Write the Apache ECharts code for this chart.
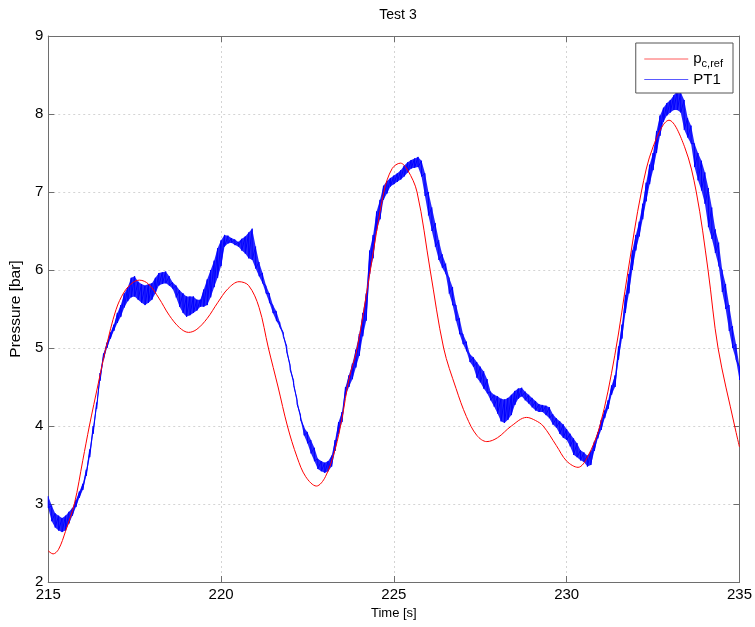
<!DOCTYPE html>
<html>
<head>
    <meta charset="utf-8">
    <script src="https://cdn.jsdelivr.net/npm/echarts@6/dist/echarts.min.js"></script>
    <style>
        html, body { margin: 0; padding: 0; background: #fff; }
    </style>
</head>
<body>
<div id="main" style="position:absolute;top:0;left:0;width:755px;height:627px;"></div>
<script type="text/javascript">
    // reference pressure p_c,ref (smooth curve)
    var refTime = [215.0, 215.14, 215.3, 215.5, 215.76, 216.0, 216.19, 216.45, 216.67, 216.96,
        217.2, 217.45, 217.64, 217.9, 218.2, 218.5, 218.8, 219.06, 219.3, 219.6,
        219.9, 220.2, 220.52, 220.8, 221.1, 221.37, 221.65, 221.92, 222.2, 222.45,
        222.76, 223.02, 223.3, 223.5, 223.7, 223.94, 224.32, 224.71, 224.95, 225.19,
        225.4, 225.67, 226.05, 226.44, 226.8, 227.1, 227.4, 227.69, 228.0, 228.4,
        228.84, 229.1, 229.32, 229.7, 230.0, 230.33, 230.6, 230.96, 231.39, 231.78,
        232.16, 232.5, 232.96, 233.41, 233.75, 234.09, 234.38, 234.86, 235.0];
    var refP = [2.40, 2.36, 2.42, 2.65, 3.01, 3.56, 4.00, 4.55, 5.00, 5.49,
        5.72, 5.84, 5.87, 5.82, 5.64, 5.42, 5.26, 5.20, 5.24, 5.38,
        5.58, 5.76, 5.85, 5.80, 5.52, 5.00, 4.50, 4.00, 3.60, 3.35,
        3.23, 3.35, 3.70, 4.10, 4.60, 5.00, 6.00, 7.00, 7.30, 7.37,
        7.28, 7.00, 6.00, 5.00, 4.48, 4.12, 3.88, 3.80, 3.85, 4.00,
        4.11, 4.07, 4.00, 3.75, 3.55, 3.47, 3.60, 4.00, 4.90, 6.00,
        7.00, 7.58, 7.92, 7.58, 7.00, 6.00, 5.00, 4.00, 3.73];

    // measured PT1 (noisy): low and high edge of the band every 0.1 s from 215 s
    var pt1Start = 215, pt1Step = 0.1;
    var pt1Hi = [3.10, 2.98, 2.88, 2.85, 2.82, 2.85, 2.90, 2.95, 3.05, 3.16,
        3.26, 3.44, 3.70, 4.00, 4.30, 4.68, 4.93, 5.07, 5.20, 5.30,
        5.45, 5.55, 5.70, 5.78, 5.90, 5.92, 5.85, 5.82, 5.80, 5.82,
        5.83, 5.90, 5.96, 5.97, 5.98, 5.92, 5.84, 5.80, 5.74, 5.70,
        5.66, 5.66, 5.66, 5.62, 5.62, 5.75, 5.88, 6.00, 6.12, 6.28,
        6.38, 6.45, 6.44, 6.41, 6.39, 6.36, 6.40, 6.43, 6.48, 6.53,
        6.30, 6.10, 5.96, 5.80, 5.70, 5.55, 5.47, 5.33, 5.20, 5.02,
        4.78, 4.58, 4.34, 4.14, 3.98, 3.92, 3.82, 3.72, 3.58, 3.55,
        3.53, 3.55, 3.62, 3.82, 4.05, 4.18, 4.50, 4.65, 4.80, 4.98,
        5.18, 5.45, 5.70, 6.25, 6.45, 6.75, 6.90, 7.08, 7.14, 7.18,
        7.21, 7.24, 7.28, 7.34, 7.38, 7.41, 7.43, 7.45, 7.40, 7.24,
        7.00, 6.80, 6.60, 6.38, 6.20, 6.08, 5.90, 5.78, 5.55, 5.38,
        5.18, 5.08, 4.92, 4.88, 4.82, 4.76, 4.70, 4.60, 4.44, 4.40,
        4.38, 4.35, 4.34, 4.36, 4.40, 4.45, 4.48, 4.49, 4.44, 4.40,
        4.36, 4.32, 4.28, 4.27, 4.26, 4.24, 4.15, 4.10, 4.06, 4.02,
        3.96, 3.90, 3.84, 3.78, 3.69, 3.66, 3.62, 3.68, 3.80, 3.92,
        4.08, 4.20, 4.33, 4.52, 4.65, 5.02, 5.30, 5.68, 5.95, 6.25,
        6.45, 6.62, 6.85, 7.12, 7.35, 7.50, 7.78, 7.98, 8.08, 8.14,
        8.18, 8.24, 8.30, 8.28, 8.18, 7.95, 7.85, 7.62, 7.50, 7.40,
        7.25, 7.05, 6.80, 6.52, 6.35, 6.00, 5.82, 5.55, 5.28, 5.05,
        4.76];
    var pt1Lo = [2.95, 2.78, 2.70, 2.66, 2.64, 2.66, 2.75, 2.85, 2.96, 3.08,
        3.18, 3.36, 3.60, 3.90, 4.22, 4.58, 4.85, 5.00, 5.12, 5.22,
        5.32, 5.40, 5.52, 5.60, 5.65, 5.66, 5.62, 5.58, 5.55, 5.58,
        5.62, 5.70, 5.80, 5.82, 5.83, 5.80, 5.76, 5.65, 5.53, 5.45,
        5.40, 5.42, 5.45, 5.48, 5.53, 5.53, 5.55, 5.65, 5.78, 5.90,
        6.05, 6.30, 6.34, 6.35, 6.32, 6.30, 6.25, 6.21, 6.15, 6.13,
        6.02, 5.92, 5.83, 5.70, 5.58, 5.45, 5.35, 5.27, 5.15, 4.95,
        4.72, 4.52, 4.28, 4.08, 3.88, 3.78, 3.65, 3.55, 3.45, 3.42,
        3.40, 3.42, 3.48, 3.68, 3.90, 4.05, 4.38, 4.50, 4.60, 4.75,
        4.90, 5.15, 5.35, 5.95, 6.15, 6.50, 6.65, 6.90, 6.98, 7.07,
        7.10, 7.13, 7.16, 7.20, 7.25, 7.30, 7.31, 7.32, 7.20, 6.95,
        6.70, 6.50, 6.30, 6.13, 6.03, 5.95, 5.70, 5.55, 5.35, 5.18,
        5.05, 4.96, 4.82, 4.76, 4.62, 4.56, 4.48, 4.42, 4.33, 4.25,
        4.16, 4.06, 4.04, 4.08, 4.14, 4.27, 4.35, 4.38, 4.33, 4.29,
        4.24, 4.20, 4.18, 4.18, 4.14, 4.10, 4.02, 3.98, 3.90, 3.85,
        3.82, 3.74, 3.63, 3.60, 3.56, 3.54, 3.48, 3.50, 3.68, 3.84,
        3.95, 4.10, 4.22, 4.40, 4.50, 4.85, 5.12, 5.45, 5.70, 6.00,
        6.25, 6.43, 6.65, 6.88, 7.10, 7.28, 7.50, 7.72, 7.90, 7.98,
        8.02, 8.05, 8.05, 8.02, 7.80, 7.70, 7.62, 7.32, 7.15, 7.02,
        6.85, 6.55, 6.40, 6.22, 6.05, 5.72, 5.50, 5.22, 5.00, 4.85,
        4.59];

    var xTicks = [215, 235, 5];   // min, max, interval
    var yTicks = [2, 9, 1];

    var refData = refTime.map(function (t, i) {
        return [t, refP[i]];
    });
    var pt1Time = pt1Hi.map(function (v, i) {
        return +(pt1Start + i * pt1Step).toFixed(2);
    });
    // each sample gives a vertical stroke hi -> lo, like the dense raw trace
    var pt1Data = [];
    for (var i = 0; i < pt1Hi.length; i++) {
        pt1Data.push([pt1Time[i], pt1Hi[i]]);
        pt1Data.push([pt1Time[i], pt1Lo[i]]);
    }

    // filled band between the low and high edge (drawn once)
    function renderBand(params, api) {
        if (params.dataIndex > 0) return;
        var pts = [];
        for (var i = 0; i < pt1Hi.length; i++) pts.push(api.coord([pt1Time[i], pt1Hi[i]]));
        for (var j = pt1Lo.length - 1; j >= 0; j--) pts.push(api.coord([pt1Time[j], pt1Lo[j]]));
        return {
            type: 'polygon',
            shape: {points: pts},
            style: {fill: '#0000ff', opacity: 0.85, stroke: null}
        };
    }

    var axisColor = '#6e6e6e';
    var font = 'Liberation Sans, Arial, sans-serif';

    var myChart = echarts.init(document.getElementById('main'), null, {renderer: 'canvas'});
    myChart.setOption({
        animation: false,
        color: ['#ff0000', '#0000ff', '#0000ff'],
        textStyle: {fontFamily: font},
        title: {
            text: 'Test 3',
            left: 393,
            top: 3,
            textAlign: 'center',
            textStyle: {fontSize: 14, fontWeight: 'normal', color: '#000', fontFamily: font}
        },
        legend: {
            orient: 'vertical',
            right: 22,
            top: 43,
            padding: [6, 10, 6, 8],
            itemGap: 3,
            itemWidth: 44,
            itemHeight: 10,
            backgroundColor: '#fff',
            borderColor: '#555',
            borderWidth: 1,
            borderRadius: 0,
            itemStyle: {opacity: 0},
            data: [
                {name: 'pc,ref', lineStyle: {color: '#ff5a5a', width: 1}},
                {name: 'PT1', lineStyle: {color: '#5a5aff', width: 1}}
            ],
            formatter: function (name) {
                if (name === 'pc,ref') return '{a|p}{b|c,ref}';
                return '{a|' + name + '}';
            },
            textStyle: {
                color: '#000',
                fontFamily: font,
                rich: {
                    a: {fontSize: 15, fontFamily: font, color: '#000', lineHeight: 20},
                    b: {fontSize: 11, fontFamily: font, color: '#000', padding: [9, 0, 0, 0], lineHeight: 20}
                }
            }
        },
        grid: {left: 47, right: 15, top: 36, bottom: 45, containLabel: false},
        xAxis: [{
            type: 'value',
            min: xTicks[0], max: xTicks[1], interval: xTicks[2],
            name: 'Time [s]',
            nameLocation: 'middle',
            nameGap: 25,
            nameTextStyle: {fontSize: 13, color: '#000', fontFamily: font},
            axisLine: {lineStyle: {color: axisColor, width: 1}},
            axisTick: {inside: true, length: 6, lineStyle: {color: axisColor}},
            axisLabel: {fontSize: 15, color: '#000', margin: 5, fontFamily: font},
            splitLine: {show: true, lineStyle: {color: '#d4d4d4', type: [2, 3], width: 1}}
        }, {
            type: 'value',
            position: 'top',
            min: xTicks[0], max: xTicks[1], interval: xTicks[2],
            axisLine: {show: true, onZero: false, lineStyle: {color: axisColor, width: 1}},
            axisTick: {inside: true, length: 6, lineStyle: {color: axisColor}},
            axisLabel: {show: false},
            splitLine: {show: false}
        }],
        yAxis: [{
            type: 'value',
            min: yTicks[0], max: yTicks[1], interval: yTicks[2],
            name: 'Pressure [bar]',
            nameLocation: 'middle',
            nameGap: 23,
            nameTextStyle: {fontSize: 15.5, color: '#000', fontFamily: font},
            axisLine: {show: true, lineStyle: {color: axisColor, width: 1}},
            axisTick: {show: true, inside: true, length: 6, lineStyle: {color: axisColor}},
            axisLabel: {fontSize: 15, color: '#000', margin: 5, fontFamily: font},
            splitLine: {show: true, lineStyle: {color: '#d4d4d4', type: [2, 3], width: 1}}
        }, {
            type: 'value',
            position: 'right',
            min: yTicks[0], max: yTicks[1], interval: yTicks[2],
            axisLine: {show: true, onZero: false, lineStyle: {color: axisColor, width: 1}},
            axisTick: {show: true, inside: true, length: 6, lineStyle: {color: axisColor}},
            axisLabel: {show: false},
            splitLine: {show: false}
        }],
        series: [{
            name: 'pc,ref',
            type: 'line',
            data: refData,
            symbol: 'none',
            smooth: 0.35,
            z: 4,
            lineStyle: {color: '#ff0000', width: 1},
            itemStyle: {color: '#ff0000'}
        }, {
            name: 'PT1',
            type: 'line',
            data: pt1Data,
            symbol: 'none',
            z: 3,
            lineStyle: {color: '#0000ff', width: 1},
            itemStyle: {color: '#0000ff'}
        }, {
            name: 'PT1 band',
            type: 'custom',
            coordinateSystem: 'cartesian2d',
            data: [[pt1Time[0], pt1Hi[0]]],
            renderItem: renderBand,
            silent: true,
            z: 2
        }]
    });
</script>
</body>
</html>
